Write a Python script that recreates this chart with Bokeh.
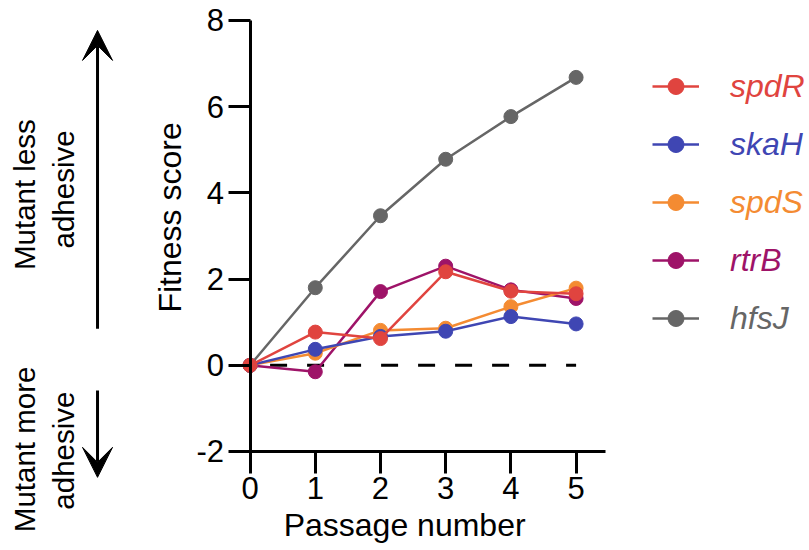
import math
from bokeh.plotting import figure
from bokeh.models import (Range1d, FixedTicker, Label, Arrow, VeeHead, Legend, LegendItem,
                          PrintfTickFormatter)
from bokeh.embed import file_html
from bokeh.resources import INLINE

# ---- data ----
passage = [0, 1, 2, 3, 4, 5]
spdR = [0, 0.77, 0.62, 2.17, 1.72, 1.66]
skaH = [0, 0.37, 0.67, 0.79, 1.13, 0.96]
spdS = [0, 0.28, 0.81, 0.86, 1.36, 1.79]
rtrB = [0, -0.15, 1.71, 2.30, 1.75, 1.55]
hfsJ = [0, 1.80, 3.47, 4.78, 5.77, 6.68]

series_names = ["spdR", "skaH", "spdS", "rtrB", "hfsJ"]
series_values = {"spdR": spdR, "skaH": skaH, "spdS": spdS, "rtrB": rtrB, "hfsJ": hfsJ}
series_colors = {"spdR": "#E0443F", "skaH": "#3F46B3", "spdS": "#F48B32",
                 "rtrB": "#9E1368", "hfsJ": "#666666"}
draw_order = ["hfsJ", "rtrB", "spdS", "skaH", "spdR"]

y_ticks = [-2, 0, 2, 4, 6, 8]
x_ticks = [0, 1, 2, 3, 4, 5]

FONT = "Liberation Sans"
W, H = 807, 548

p = figure(width=W, height=H, output_backend="svg", toolbar_location=None,
           x_range=Range1d(-3.828, 8.549), y_range=Range1d(-4.251, 8.464),
           min_border_left=0, min_border_right=0, min_border_top=0, min_border_bottom=0)
p.outline_line_color = None
p.grid.visible = False
p.background_fill_color = "white"
p.border_fill_color = "white"

for ax in (p.xaxis, p.yaxis):
    ax.axis_line_width = 3
    ax.major_tick_line_width = 3
    ax.axis_line_color = "black"
    ax.major_tick_line_color = "black"
    ax.minor_tick_line_color = None
    ax.major_tick_in = 0
    ax.major_tick_out = 22
    ax.major_label_text_font = FONT
    ax.major_label_text_font_size = "31px"
    ax.major_label_text_color = "black"
    ax.major_label_standoff = 4
    ax.formatter = PrintfTickFormatter(format="%d")

p.xaxis.ticker = FixedTicker(ticks=x_ticks)
p.yaxis.ticker = FixedTicker(ticks=y_ticks)
p.yaxis.fixed_location = 0
p.yaxis.bounds = (y_ticks[0], y_ticks[-1])
p.xaxis.fixed_location = y_ticks[0]
p.xaxis.bounds = (-0.3, 5.45)

# dashed zero line
p.line(x=[passage[0], passage[-1]], y=[0, 0], line_color="black", line_width=3,
       line_dash="17 20", line_dash_offset=17)

renderers = {}
for name in draw_order:
    c = series_colors[name]
    lr = p.line(passage, series_values[name], line_color=c, line_width=2.5)
    sr = p.scatter(passage, series_values[name], size=14, marker="circle",
                   fill_color=c, line_color=c)
    renderers[name] = (lr, sr)

# legends (one per series so each label gets its series colour)
for i, name in enumerate(series_names):
    c = series_colors[name]
    leg = Legend(items=[LegendItem(label=name, renderers=list(renderers[name]))],
                 location=(652, (H - 106) - 58 * i),
                 glyph_width=47, glyph_height=40, label_height=40, label_standoff=31,
                 padding=0, spacing=0, margin=0,
                 border_line_color=None, background_fill_alpha=0,
                 label_text_font=FONT, label_text_font_style="italic",
                 label_text_font_size="32px", label_text_color=c)
    p.add_layout(leg)

# axis titles
p.add_layout(Label(x=2.37, y=-3.70, text="Passage number", text_font=FONT,
                   text_color="black",
                   text_font_size="32px", text_align="center", text_baseline="alphabetic"))
p.add_layout(Label(x=-1.236, y=3.43, text="Fitness score", text_font=FONT,
                   text_color="black",
                   text_font_size="32px", text_align="center", text_baseline="alphabetic",
                   angle=math.pi / 2))

# side annotations
side = [("Mutant less", -3.46, 3.96), ("adhesive", -2.86, 4.08),
        ("Mutant more", -3.46, -1.95), ("adhesive", -2.86, -1.98)]
for txt, x, y in side:
    p.add_layout(Label(x=x, y=y, text=txt, text_font=FONT, text_font_size="29.5px",
                       text_color="black",
                       text_align="center", text_baseline="alphabetic", angle=math.pi / 2))

p.add_layout(Arrow(end=VeeHead(size=30, fill_color="black", line_color="black"),
                   x_start=-2.34, y_start=0.85, x_end=-2.34, y_end=7.77,
                   line_width=3, line_color="black"))
p.add_layout(Arrow(end=VeeHead(size=30, fill_color="black", line_color="black"),
                   x_start=-2.34, y_start=-0.585, x_end=-2.34, y_end=-2.60,
                   line_width=3, line_color="black"))

html = file_html(p, INLINE)
open("out.html", "w").write(html)
